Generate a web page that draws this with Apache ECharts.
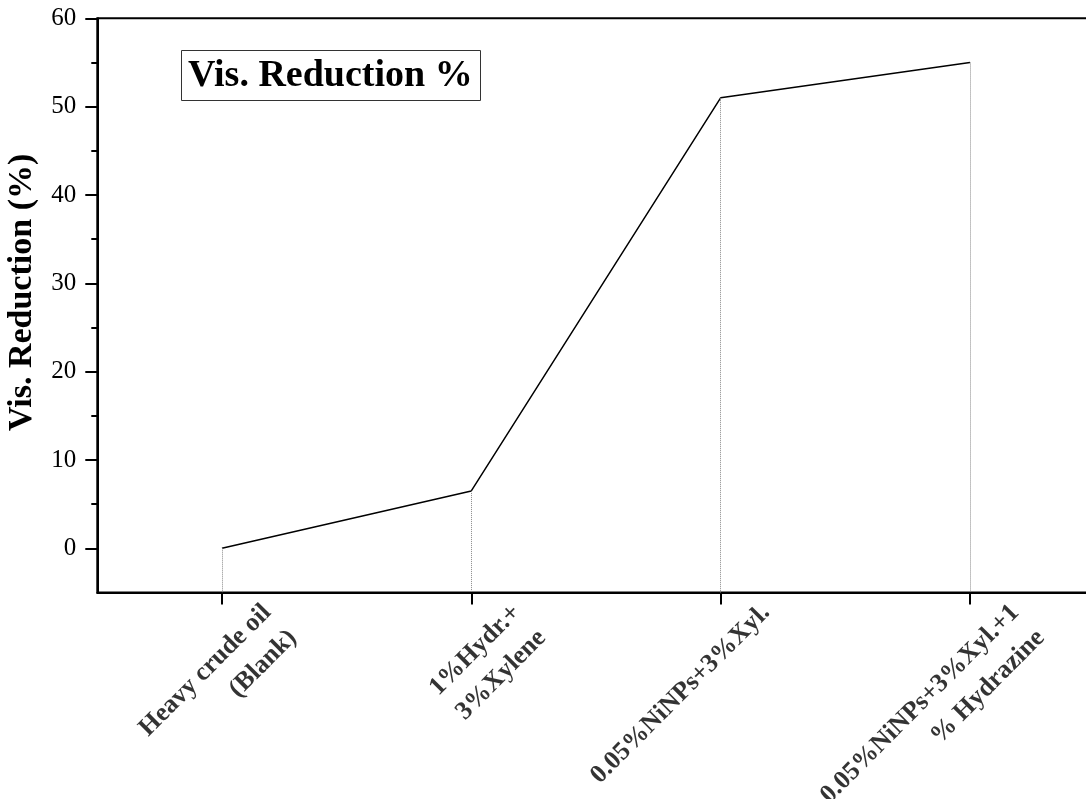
<!DOCTYPE html>
<html lang="en">
<head>
<meta charset="UTF-8">
<title>Vis. Reduction %</title>
<script src="https://cdn.jsdelivr.net/npm/echarts@6/dist/echarts.min.js"></script>
<style>
    html, body { margin: 0; padding: 0; background: #fff; }
    #main { width: 1086px; height: 799px; }
</style>
</head>
<body>
<div id="main"></div>
<script>
    // 数据
    var categories = ['Heavy crude oil\n(Blank)', '1%Hydr.+\n3%Xylene', '0.05%NiNPs+3%Xyl.', '0.05%NiNPs+3%Xyl.+1\n% Hydrazine'];
    var visReduction = [0, 6.5, 51, 55];
    var yTicks = [0, 10, 20, 30, 40, 50, 60];
    var yMinorTicks = [5, 15, 25, 35, 45, 55];
    var yMin = -5;
    var yMax = 60;

    var font = '"Liberation Serif", "Times New Roman", serif';
    var myChart = echarts.init(document.getElementById('main'));

    // 点到x轴的虚线
    var dropLines = [];
    for (var i = 0; i < categories.length; i++) {
        dropLines.push([{ coord: [i, visReduction[i]] }, { coord: [i, yMin] }]);
    }
    // x轴标签的锚点（放在y轴最小值上）
    var labelAnchors = [];
    for (var i = 0; i < categories.length; i++) {
        labelAnchors.push([i, yMin]);
    }

    option = {
        animation: false,
        title: {
            text: 'Vis. Reduction %',
            left: 181,
            top: 50,
            padding: [7, 8, 6, 7],
            borderColor: '#333',
            borderWidth: 1,
            textStyle: { fontSize: 38, fontWeight: 'bold', fontFamily: font, color: '#000' }
        },
        grid: {
            left: 97.3,
            right: -8.6,
            top: 18.3,
            bottom: 206.5,
            outerBoundsMode: 'none',
            show: true,
            borderColor: '#000',
            borderWidth: 2
        },
        xAxis: {
            type: 'category',
            data: categories,
            boundaryGap: true,
            axisLine: { onZero: false, lineStyle: { color: '#000', width: 2 } },
            axisTick: { show: true, alignWithLabel: true, interval: 0, length: 12, lineStyle: { color: '#000', width: 2 } },
            // 标签另外用散点的label画，这里只保留刻度
            axisLabel: { show: true, interval: 0, color: 'transparent', fontSize: 1, formatter: function() { return '.'; } },
            splitLine: { show: false }
        },
        yAxis: [{
            type: 'value',
            min: yMin,
            max: yMax,
            name: 'Vis. Reduction (%)',
            nameLocation: 'middle',
            nameGap: 58,
            nameTextStyle: { fontSize: 34, fontWeight: 'bold', fontFamily: font, color: '#000', padding: [0, 0, 0, 26] },
            axisLine: { show: true, onZero: false, lineStyle: { color: '#000', width: 2 } },
            axisTick: { show: true, customValues: yTicks, length: 12, lineStyle: { color: '#000', width: 2 } },
            axisLabel: { customValues: yTicks, fontSize: 25, fontFamily: font, color: '#000', margin: 21 },
            splitLine: { show: false }
        }, {
            type: 'value',
            min: yMin,
            max: yMax,
            position: 'left',
            axisLine: { show: false },
            axisTick: { show: true, customValues: yMinorTicks, length: 6, lineStyle: { color: '#000', width: 2 } },
            axisLabel: { show: false },
            splitLine: { show: false }
        }],
        series: [{
            type: 'line',
            data: visReduction,
            symbol: 'none',
            lineStyle: { color: '#000', width: 1.5 },
            markLine: {
                silent: true,
                symbol: 'none',
                label: { show: false },
                lineStyle: { type: 'dotted', color: '#888', width: 1 },
                data: dropLines
            }
        }, {
            type: 'scatter',
            data: labelAnchors,
            symbolSize: 1,
            silent: true,
            clip: false,
            itemStyle: { color: 'transparent' },
            label: {
                show: true,
                formatter: function(p) { return categories[p.dataIndex]; },
                position: [33, 4],
                rotate: 45,
                align: 'right',
                verticalAlign: 'top',
                fontSize: 26,
                fontWeight: 'bold',
                lineHeight: 36,
                fontFamily: font,
                color: '#000'
            }
        }]
    };
    myChart.setOption(option);
</script>
</body>
</html>
